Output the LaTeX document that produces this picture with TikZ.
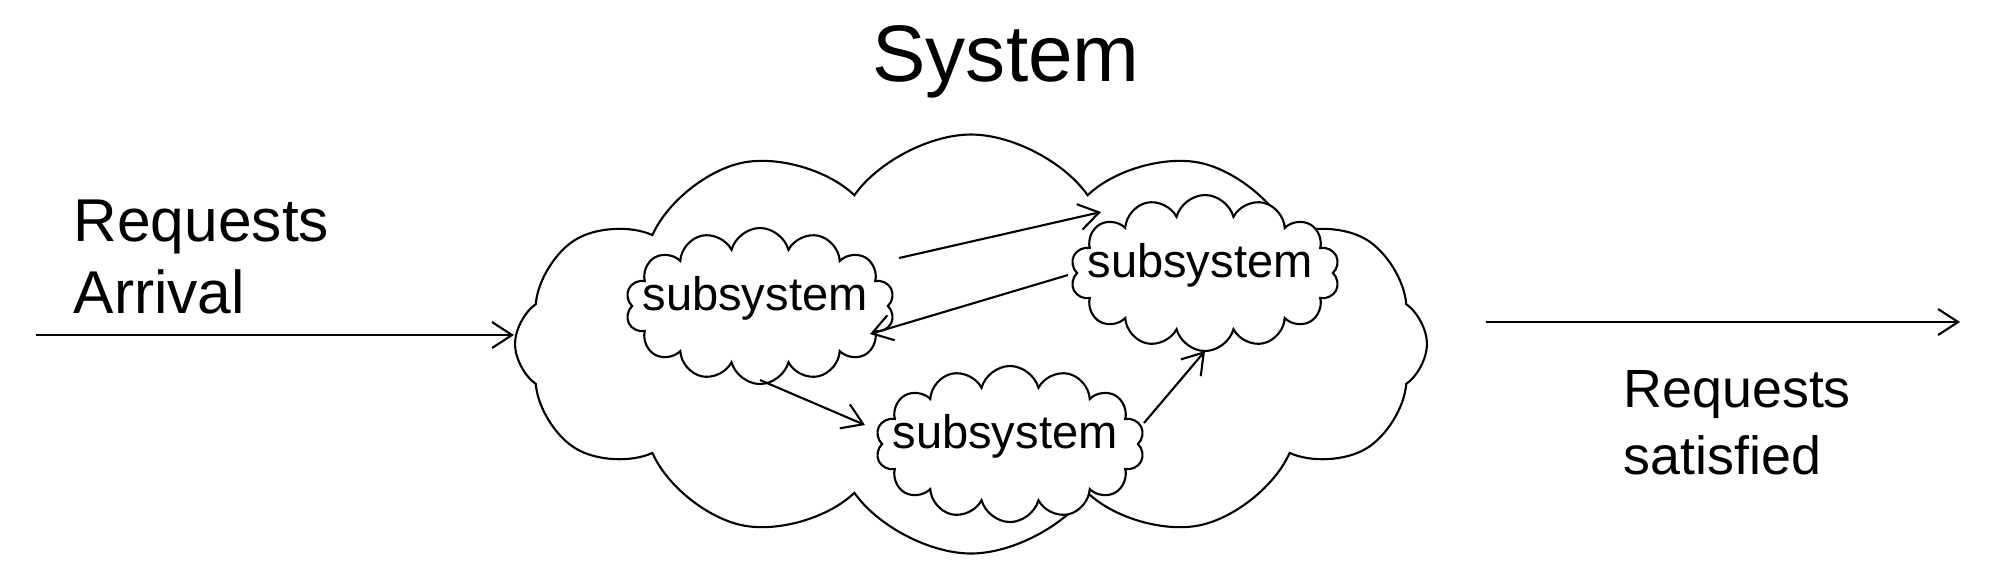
\documentclass[tikz,border=0pt]{standalone}
\usepackage{fontspec}
\setmainfont{Liberation Sans}
\usetikzlibrary{shapes.symbols,arrows.meta}
\newcommand{\subtext}{\makebox[0pt]{\raisebox{-0.4mm}[0pt][0pt]{subsystem\hspace{1mm}}}}
\begin{document}
\begin{tikzpicture}[
    flow/.style={-{Straight Barb[length=2mm,width=2.6mm]}, line width=0.6pt},
    subsys/.style={draw, fill=white, line width=0.6pt, cloud, cloud puffs=14, cloud ignores aspect, inner sep=0pt, minimum width=2.69cm, minimum height=1.56cm, font=\fontsize{13.4}{15}\selectfont}
  ]
    \useasboundingbox (0,0) rectangle (20,-5.76);

    \node[font=\fontsize{22.8}{26}\selectfont] (title) at (10.06,-0.62) {System};

    \node[draw, line width=0.6pt, cloud, cloud puffs=12, cloud puff arc=110, cloud ignores aspect, inner sep=0pt, minimum width=9.12cm, minimum height=4.19cm] (system) at (9.71,-3.44) {};

    \node[subsys] (subA) at (7.60,-3.06) {\subtext};
    \node[subsys] (subB) at (12.05,-2.73) {\subtext};
    \node[subsys] (subC) at (10.10,-4.44) {\subtext};

    \coordinate (inlet) at (0.36,-3.35);
    \coordinate (outlet) at (19.6,-3.22);

    \draw[flow] (inlet) -- (system.west |- inlet);
    \draw[flow, shorten <=5.8mm] (system.east |- outlet) -- (outlet);

    \draw[flow] ([shift={(1.39,0.48)}]subA.center) -- ([shift={(-1.04,0.61)}]subB.center);
    \draw[flow] ([shift={(-1.37,-0.02)}]subB.center) -- ([shift={(1.10,-0.28)}]subA.center);
    \draw[flow] ([shift={(0,-0.74)}]subA.center) -- ([shift={(-1.45,0.19)}]subC.center);
    \draw[flow] ([shift={(1.34,0.21)}]subC.center) -- ([shift={(0,-0.78)}]subB.center);

    \node[anchor=base west, align=left, inner sep=0pt, font=\fontsize{17.2}{20.3}\selectfont] (arrival) at (0.73,-3.13) {Requests\\Arrival};
    \node[anchor=base west, align=left, inner sep=0pt, font=\fontsize{15.3}{19}\selectfont] (satisfied) at (16.23,-4.74) {Requests\\satisfied};
  \end{tikzpicture}
\end{document}
